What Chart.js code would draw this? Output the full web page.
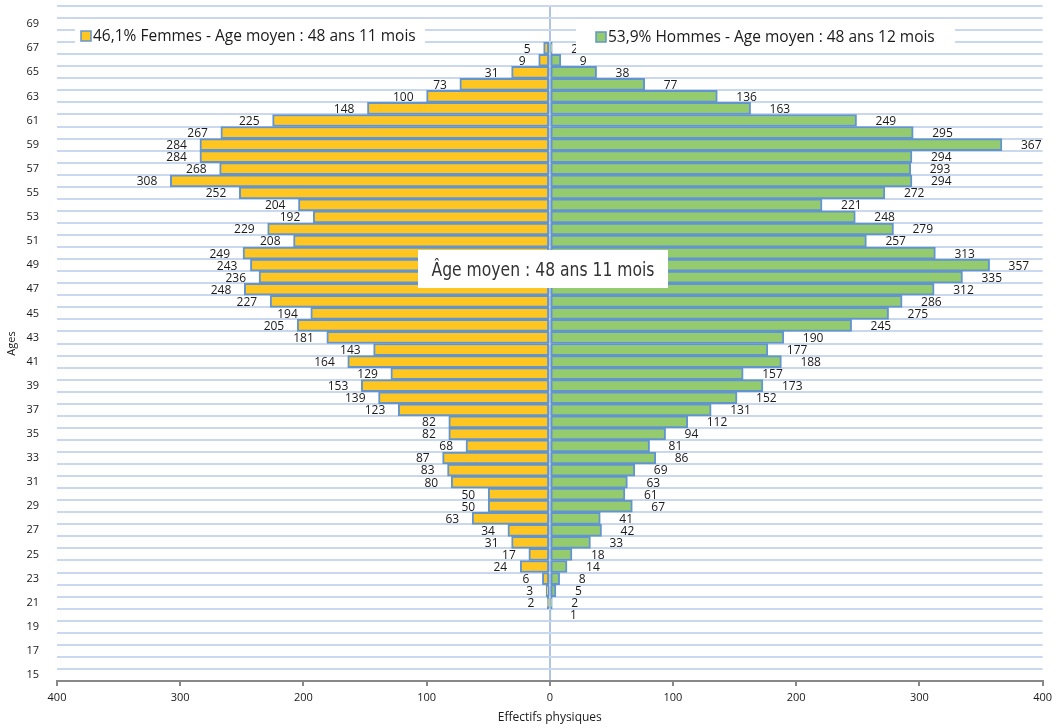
<!DOCTYPE html>
<html>
<head>
<meta charset="utf-8">
<script src="https://cdn.jsdelivr.net/npm/chart.js@4.4.1/dist/chart.umd.min.js"></script>
<style>
  html, body { margin: 0; padding: 0; background: #fff; }
  #wrap { width: 1057px; height: 728px; position: relative; }
</style>
</head>
<body>
<div id="wrap"><canvas id="pyramide" width="1057" height="728"></canvas></div>
<script>
// ages 15 -> 70 (bottom -> top)
const ages = [15,16,17,18,19,20,21,22,23,24,25,26,27,28,29,30,31,32,33,34,35,36,37,38,39,40,41,42,43,44,45,46,47,48,49,50,51,52,53,54,55,56,57,58,59,60,61,62,63,64,65,66,67,68,69,70];

const femmes = [null,null,null,null,null,null,2,3,6,24,17,31,34,63,50,50,80,83,87,68,82,82,123,139,153,129,164,143,181,205,194,227,248,236,243,249,208,229,192,204,252,308,268,284,284,267,225,148,100,73,31,9,5,null,null,null];

const hommes = [null,null,null,null,null,1,2,5,8,14,18,33,42,41,67,61,63,69,86,81,94,112,131,152,173,157,188,177,190,245,275,286,312,335,357,313,257,279,248,221,272,294,293,294,367,295,249,163,136,77,38,9,2,null,null,null];

const xTicks = [-400,-300,-200,-100,0,100,200,300,400];

const legendFemmes = '46,1% Femmes - Age moyen : 48 ans 11 mois';
const legendHommes = '53,9% Hommes - Age moyen : 48 ans 12 mois';
const boxText = 'Âge moyen : 48 ans 11 mois';

const orange = '#FFC520';
const green = '#94CB6E';
const barBorder = '#6295CF';

// value labels next to the bar ends
const barLabels = {
  id: 'barLabels',
  afterDatasetsDraw(chart) {
    const ctx = chart.ctx;
    ctx.save();
    ctx.font = '12px "Open Sans", sans-serif';
    ctx.fillStyle = '#1a1a1a';
    ctx.textBaseline = 'middle';
    chart.data.datasets.forEach((ds, i) => {
      const meta = chart.getDatasetMeta(i);
      meta.data.forEach((el, j) => {
        const v = ds.data[j];
        if (v === null) return;
        if (i === 0) {
          ctx.textAlign = 'right';
          ctx.fillText(String(-v), el.x - 13, el.y + 1);
        } else {
          ctx.textAlign = 'left';
          ctx.fillText(String(v), el.x + 19, el.y + 1);
        }
      });
    });
    ctx.restore();
  }
};

// legend boxes + average age box drawn over the plot
const overlays = {
  id: 'overlays',
  afterDraw(chart) {
    const ctx = chart.ctx;
    ctx.save();
    ctx.fillStyle = '#fff';
    ctx.fillRect(75, 24, 350, 24);
    ctx.fillRect(576, 27, 379, 26);
    ctx.lineWidth = 1.5;
    ctx.fillStyle = orange;
    ctx.fillRect(81, 31, 10, 10);
    ctx.strokeStyle = barBorder;
    ctx.strokeRect(81, 31, 10, 10);
    ctx.fillStyle = green;
    ctx.fillRect(596, 32, 10, 10);
    ctx.strokeRect(596, 32, 10, 10);
    ctx.font = '15.5px "Open Sans", sans-serif';
    ctx.fillStyle = '#1a1a1a';
    ctx.textBaseline = 'middle';
    ctx.textAlign = 'left';
    ctx.fillText(legendFemmes, 93, 37);
    ctx.fillText(legendHommes, 608, 38);

    // average age box
    ctx.fillStyle = '#fff';
    ctx.fillRect(418, 250, 250, 38);
    ctx.font = '19px "DejaVu Sans Condensed", "DejaVu Sans", sans-serif';
    ctx.fillStyle = '#333';
    ctx.textAlign = 'center';
    const w = ctx.measureText(boxText).width;
    const sx = 223 / w;
    ctx.translate(543, 271);
    ctx.scale(sx, 1);
    ctx.fillText(boxText, 0, 0);
    ctx.restore();
  }
};

new Chart(document.getElementById('pyramide'), {
  type: 'bar',
  data: {
    labels: ages,
    datasets: [
      {
        label: 'Femmes',
        data: femmes.map(v => v === null ? null : -v),
        backgroundColor: orange,
        borderColor: barBorder,
        borderWidth: 2,
        borderSkipped: false,
        barPercentage: 1,
        categoryPercentage: 1
      },
      {
        label: 'Hommes',
        data: hommes,
        backgroundColor: green,
        borderColor: barBorder,
        borderWidth: 2,
        borderSkipped: false,
        barPercentage: 1,
        categoryPercentage: 1
      }
    ]
  },
  options: {
    indexAxis: 'y',
    responsive: false,
    animation: false,
    layout: { padding: { left: 0, right: 12, top: 6, bottom: 0 } },
    plugins: {
      legend: { display: false },
      tooltip: { enabled: false }
    },
    scales: {
      x: {
        stacked: true,
        min: -400,
        max: 400,
        afterBuildTicks: (scale) => { scale.ticks = xTicks.map(v => ({ value: v })); },
        afterFit: (scale) => { scale.height = 47; },
        ticks: {
          callback: (v) => Math.abs(v),
          font: { family: '"Open Sans", sans-serif', size: 11 },
          color: '#1a1a1a',
          padding: 5,
          maxRotation: 0
        },
        grid: {
          color: (c) => c.tick && c.tick.value === 0 ? '#AFC5E2' : 'rgba(0,0,0,0)',
          lineWidth: 2,
          tickColor: '#888',
          tickLength: 5,
          drawOnChartArea: true
        },
        border: { display: true, color: '#888', width: 2 },
        title: {
          display: true,
          text: 'Effectifs physiques',
          font: { family: '"Open Sans", sans-serif', size: 12 },
          color: '#1a1a1a',
          padding: { top: 0, bottom: 3 }
        }
      },
      y: {
        stacked: true,
        reverse: true,
        afterFit: (scale) => {
          scale.width = 57;
          scale.paddingTop = 0;
          scale.paddingBottom = 0;
        },
        ticks: {
          autoSkip: false,
          callback: function (v, i) { return (ages[i] - 15) % 2 === 0 ? ages[i] : ''; },
          font: { family: '"Open Sans", sans-serif', size: 11 },
          color: '#1a1a1a',
          padding: 18
        },
        grid: {
          color: '#C9D8EE',
          lineWidth: 2,
          drawTicks: false
        },
        border: { display: false },
        title: {
          display: true,
          text: 'Ages',
          font: { family: '"Open Sans", sans-serif', size: 11 },
          color: '#1a1a1a',
          padding: { top: 5, bottom: 0 }
        }
      }
    }
  },
  plugins: [barLabels, overlays]
});
</script>
</body>
</html>
